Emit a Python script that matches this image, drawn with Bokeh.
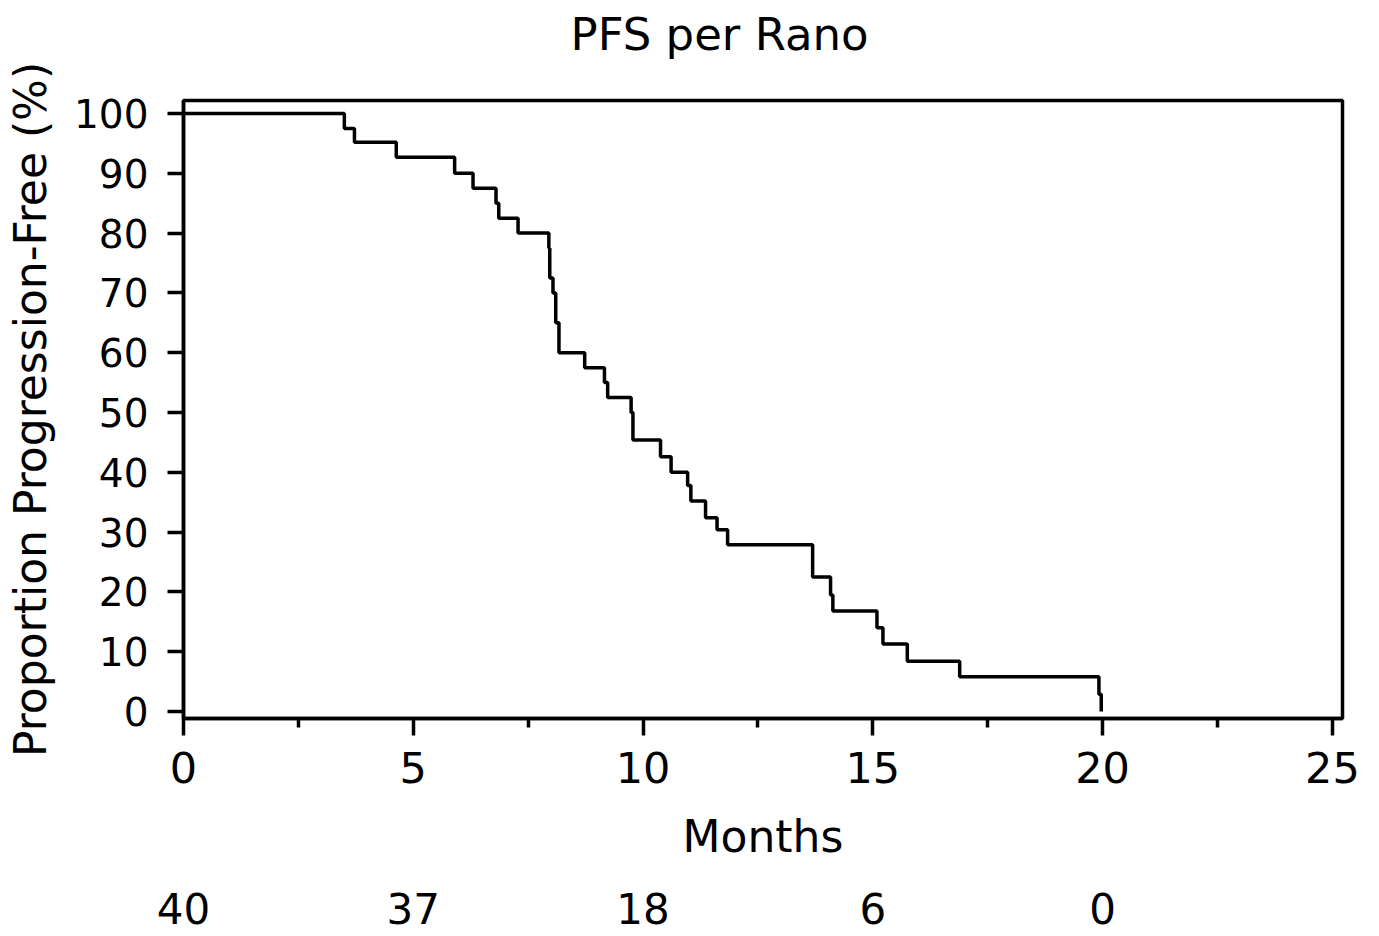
from bokeh.plotting import figure
from bokeh.models import Range1d, LinearAxis, FixedTicker, Title
from bokeh.embed import file_html
from bokeh.resources import INLINE

# Kaplan-Meier step data (months, % progression-free)
months = [0, 3.50, 3.72, 4.63, 5.90, 6.30, 6.80, 6.86, 7.28, 7.95,
          7.97, 8.04, 8.10, 8.17, 8.73, 9.16, 9.23, 9.74, 9.78, 10.38,
          10.61, 10.97, 11.04, 11.36, 11.61, 11.84, 13.69, 14.08, 14.13, 15.09,
          15.22, 15.75, 16.89, 19.92, 19.97]
pfs = [100, 97.5, 95.2, 92.7, 90, 87.5, 85, 82.5, 80, 77.5,
       72.5, 70, 65, 60, 57.5, 55, 52.5, 50, 45.4, 42.6,
       40, 37.8, 35.2, 32.4, 30.4, 27.9, 22.5, 19.5, 16.8, 14,
       11.3, 8.4, 5.8, 2.9, 0]

x_ticks = [0, 5, 10, 15, 20, 25]
x_minor = [2.5, 7.5, 12.5, 17.5, 22.5]
y_ticks = [0, 10, 20, 30, 40, 50, 60, 70, 80, 90, 100]
risk_times = [0, 5, 10, 15, 20]
at_risk = [40, 37, 18, 6, 0]

FONT = "DejaVu Sans"
LW = 3.5

p = figure(width=1379, height=936, output_backend="svg", toolbar_location=None,
           x_range=Range1d(0, 25.22), y_range=Range1d(-1.17, 102.17),
           min_border_left=183, min_border_right=37, min_border_top=100,
           min_border_bottom=218, background_fill_color="white",
           border_fill_color="white")

p.step(months, pfs, mode="after", line_color="black", line_width=LW)

p.xgrid.visible = False
p.ygrid.visible = False
p.outline_line_color = "black"
p.outline_line_width = LW

# spacer between frame and title (keeps the title near the top edge)
p.add_layout(Title(text=" ", text_font_size="2px", standoff=28), "above")

# Title
p.title.text = "PFS per Rano"
p.title.text_font = FONT
p.title.text_font_size = "45px"
p.title.text_font_style = "normal"
p.title.text_color = "black"
p.title.align = "left"
p.title.vertical_align = "top"
p.title.offset = 387
p.title.standoff = 12

# x axis
xa = p.xaxis[0]
xa.ticker = FixedTicker(ticks=x_ticks, minor_ticks=x_minor)
xa.axis_label = "Months"
xa.axis_label_text_font = FONT
xa.axis_label_text_font_size = "44px"
xa.axis_label_text_font_style = "normal"
xa.axis_label_text_color = "black"
xa.axis_label_standoff = 25
xa.major_label_text_font = FONT
xa.major_label_text_font_size = "43px"
xa.major_label_text_color = "black"
xa.major_label_standoff = 16
xa.axis_line_width = LW
xa.major_tick_line_width = LW
xa.minor_tick_line_width = LW
xa.major_tick_in = 0
xa.major_tick_out = 17
xa.minor_tick_in = 0
xa.minor_tick_out = 9

# y axis
ya = p.yaxis[0]
ya.ticker = FixedTicker(ticks=y_ticks)
ya.axis_label = "Proportion Progression-Free (%)"
ya.axis_label_text_font = FONT
ya.axis_label_text_font_size = "44px"
ya.axis_label_text_font_style = "normal"
ya.axis_label_text_color = "black"
ya.axis_label_standoff = 15
ya.major_label_text_font = FONT
ya.major_label_text_font_size = "39px"
ya.major_label_text_color = "black"
ya.major_label_standoff = 19
ya.axis_line_width = LW
ya.major_tick_line_width = LW
ya.major_tick_in = 0
ya.major_tick_out = 16
ya.minor_tick_line_color = None

# number-at-risk row as an extra axis below
risk_axis = LinearAxis(
    ticker=FixedTicker(ticks=risk_times),
    major_label_overrides={t: str(n) for t, n in zip(risk_times, at_risk)},
    axis_line_color=None, major_tick_line_color=None, minor_tick_line_color=None,
    major_label_text_font=FONT, major_label_text_font_size="42px",
    major_label_text_color="black", major_label_standoff=22)
p.add_layout(risk_axis, "below")

open("out.html", "w").write(file_html(p, INLINE))
